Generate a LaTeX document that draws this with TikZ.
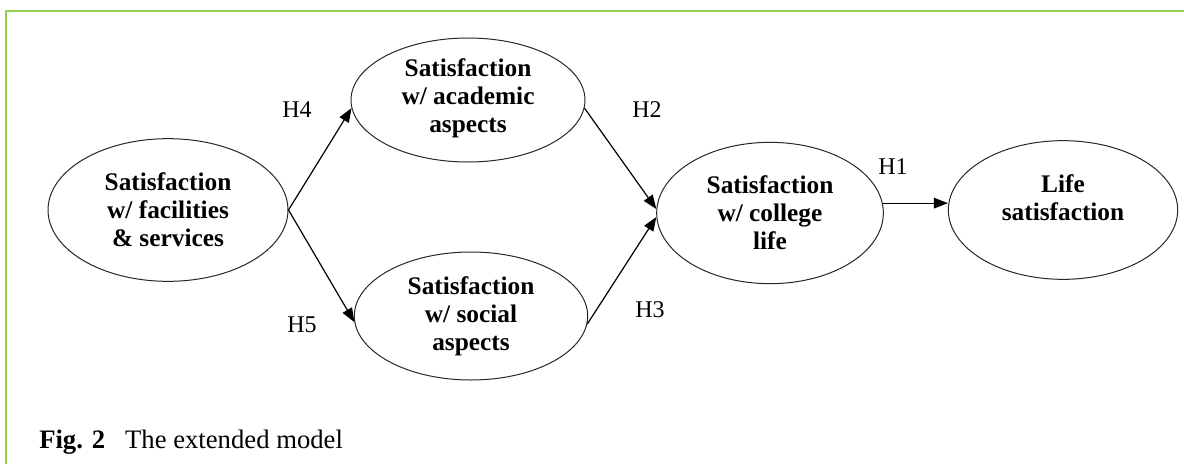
\documentclass[tikz,border=0pt]{standalone}
\usepackage{fontspec}
\setmainfont{Liberation Serif}
\usetikzlibrary{shapes.geometric,arrows.meta}
\definecolor{framegreen}{RGB}{146,208,80}

\begin{document}
\begin{tikzpicture}[x=0.75pt,y=0.75pt,yscale=-1,xscale=1,
	sat/.style={draw=black!85,ellipse,line width=0.75pt,inner sep=0pt,align=center,font=\fontsize{19}{21}\selectfont\bfseries},
	hyp/.style={inner sep=0pt,font=\fontsize{18}{20}\selectfont},
	link/.style={-{Triangle[length=10.5pt,width=8pt]},line width=0.9pt}]
	\useasboundingbox (0,0) rectangle (1184,464);

	%Frame
	\draw [framegreen,line width=2.2pt] (1184,11) -- (6,11) -- (6,464) ;

	%Ellipses
	\node [sat,minimum width=180pt,minimum height=107pt] (facil) at (168,210) {Satisfaction\\w/ facilities\\\& services};
	\node [sat,minimum width=175.5pt,minimum height=93pt,text depth=7pt] (acad) at (468,100) {Satisfaction\\w/ academic\\aspects};
	\node [sat,minimum width=175pt,minimum height=96pt] (social) at (471,316) {Satisfaction\\w/ social\\aspects};
	\node [sat,minimum width=170pt,minimum height=106pt] (college) at (770,213) {Satisfaction\\w/ college\\life};
	\node [sat,minimum width=172pt,minimum height=104pt,text depth=18pt] (life) at (1063,210) {Life\\satisfaction};

	%Straight Lines
	\draw [link] (facil.east) -- (acad.184) ;
	\draw [link] (facil.east) -- (social.183) ;
	\draw [link] (acad.-4) -- (college.178) ;
	\draw [link] (social.-4) -- (college.182) ;
	\draw [link] (college.5) -- (college.5 -| life.west) ;

	% Text Node
	\node [hyp] (h4) at (297,110) {H4};
	\node [hyp] (h5) at (302,325) {H5};
	\node [hyp] (h2) at (647,110) {H2};
	\node [hyp] (h3) at (650,310) {H3};
	\node [hyp] (h1) at (893,167) {H1};
	% Text Node
	\node [anchor=base west,inner sep=0pt,font=\fontsize{20}{22}\selectfont] (caption) at (39,448) {\textbf{Fig. 2}\hspace{0.75em}The extended model};
\end{tikzpicture}
\end{document}
